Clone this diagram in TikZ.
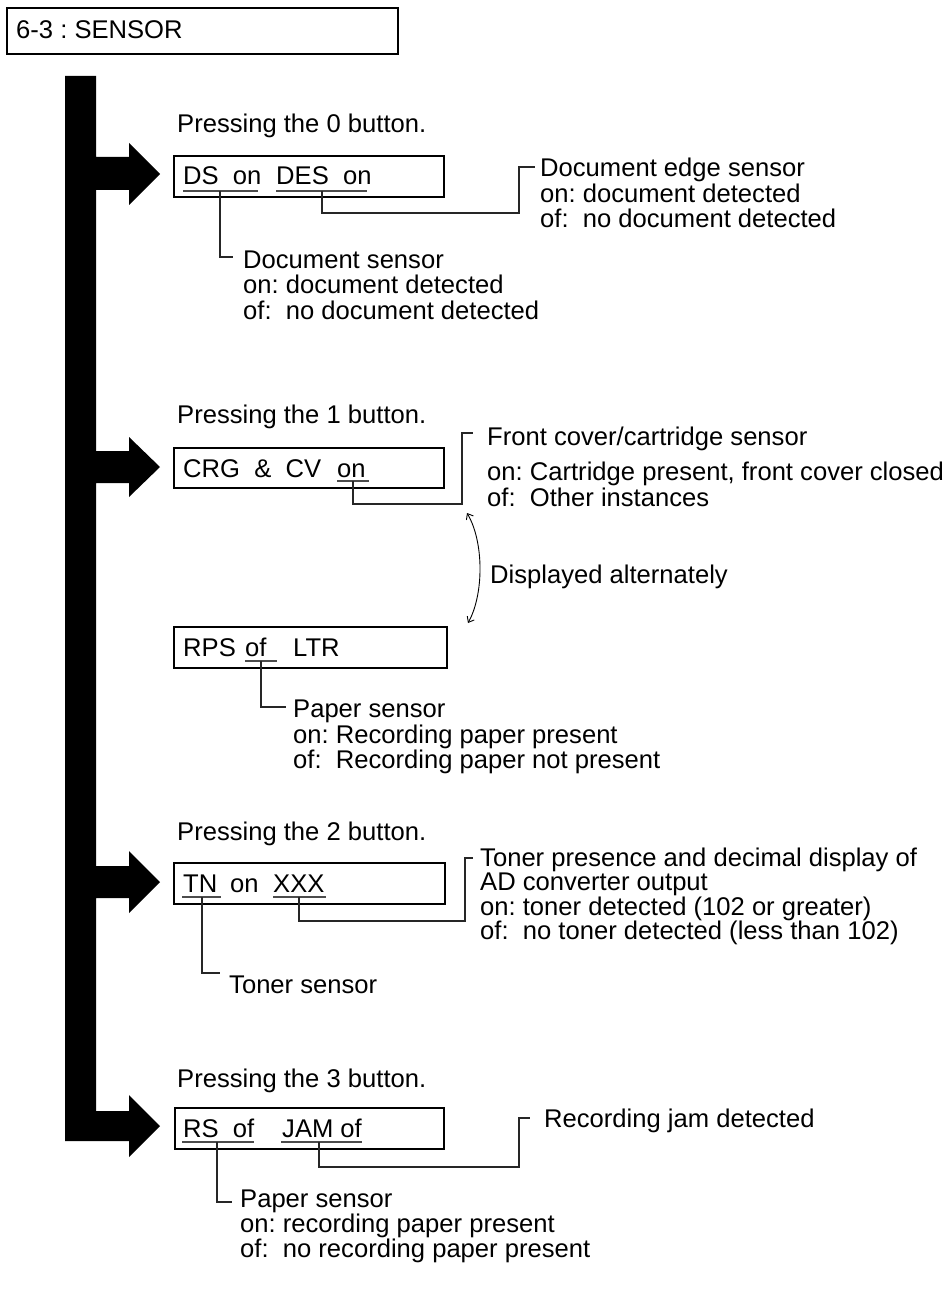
\documentclass[tikz,border=0pt]{standalone}
\usepackage{fontspec}
\setmainfont{Liberation Sans}
\usetikzlibrary{arrows.meta,calc}
\begin{document}
\begin{tikzpicture}[x=1pt,y=-1pt,
  txt/.style={anchor=base west,inner sep=0pt,font=\fontsize{25.6}{28}\selectfont\frenchspacing},
  dispbox/.style={draw,line width=1.9pt,inner sep=0pt,minimum height=41pt},
  lead/.style={line width=1.2pt,black!85},
  uline/.style={line width=1.4pt,black!70},
  barb/.style={{Straight Barb[length=5pt,width=8pt]}-{Straight Barb[length=5pt,width=8pt]},line width=0.9pt}]
\useasboundingbox (0,0) rectangle (947,1289);

% title
\node[dispbox,minimum width=391pt,minimum height=46pt,line width=1.6pt] (title) at (202.5,31) {};
\node[txt] (titletxt) at (16,39) {6-3 : SENSOR};

% black bar with arrows
\fill[black] (65,76) -- (96,76) -- (96,157) -- (129,157) -- (129,143) -- (160,174) -- (129,205) -- (129,190)
  -- (96,190) -- (96,451) -- (129,451) -- (129,437) -- (160,467) -- (129,497) -- (129,483)
  -- (96,483) -- (96,866) -- (129,866) -- (129,851) -- (160,882) -- (129,913) -- (129,898)
  -- (96,898) -- (96,1111) -- (129,1111) -- (129,1095) -- (160,1126) -- (129,1157) -- (129,1141)
  -- (65,1141) -- cycle;

% ---------- section 0 ----------
\node[txt] (p0) at (177,133) {Pressing the 0 button.};
\node[dispbox,minimum width=270pt] (box0) at (309,176.5) {};
\node[txt] (ds) at (183,185) {DS\ \ on};
\node[txt] (des) at (276,185) {DES\ \ on};
\draw[uline] (183,191) -- (258,191);
\draw[uline] (276,191) -- (367,191);
\coordinate (dsU) at (220,191);
\coordinate (dsE) at (233,257);
\draw[lead] (dsU) |- (dsE);
\node[txt] (dsl1) at (243,268) {Document sensor};
\node[txt] (dsl2) at (243,293) {on:\ document detected};
\node[txt] (dsl3) at (243,319) {of:\ \ no document detected};
\coordinate (desU) at (322,191);
\coordinate (desM) at (519,213);
\coordinate (desE) at (535,167);
\draw[lead] (desU) |- (desM) |- (desE);
\node[txt] (desl1) at (540,177) {Document edge sensor};
\node[txt] (desl2) at (540,203) {on:\ document detected};
\node[txt] (desl3) at (540,228) {of:\ \ no document detected};

% ---------- section 1 ----------
\node[txt] (p1) at (177,423) {Pressing the 1 button.};
\node[dispbox,minimum width=270pt,minimum height=40pt] (box1) at (309,468) {};
\node[txt] (crg) at (183,477) {CRG\ \ \&\ \ CV};
\node[txt] (crgon) at (337,477) {on};
\draw[uline] (337,481) -- (369,481);
\coordinate (cvU) at (353,481);
\coordinate (cvM) at (462,504);
\coordinate (cvE) at (473,433);
\draw[lead] (cvU) |- (cvM) |- (cvE);
\node[txt] (cvl1) at (487,445.5) {Front cover/cartridge sensor};
\node[txt] (cvl2) at (487,480) {on:\ Cartridge present, front cover closed};
\node[txt] (cvl3) at (487,506) {of:\ \ Other instances};

\coordinate (altA) at (467,513);
\coordinate (altB) at (468,623);
\draw[barb] (altA) .. controls (484,542) and (484,594) .. (altB);
\node[txt] (alt) at (490,583) {Displayed alternately};

% ---------- RPS ----------
\node[dispbox,minimum width=273pt] (boxr) at (310.5,647.5) {};
\node[txt] (rps) at (183,656) {RPS};
\node[txt] (rpsof) at (245,656) {of};
\node[txt] (ltr) at (293,656) {LTR};
\draw[uline] (245,661) -- (277,661);
\coordinate (rpsU) at (261,661);
\coordinate (rpsE) at (286,707);
\draw[lead] (rpsU) |- (rpsE);
\node[txt] (rpl1) at (293,717) {Paper sensor};
\node[txt] (rpl2) at (293,743) {on:\ Recording paper present};
\node[txt] (rpl3) at (293,768) {of:\ \ Recording paper not present};

% ---------- section 2 ----------
\node[txt] (p2) at (177,840) {Pressing the 2 button.};
\node[dispbox,minimum width=271pt] (box2) at (309.5,883.5) {};
\node[txt] (tn) at (183,892) {TN};
\node[txt] (tnon) at (230,892) {on};
\node[txt] (xxx) at (273,892) {XXX};
\draw[uline] (182,897) -- (221,897);
\draw[uline] (273,897) -- (326,897);
\coordinate (tnU) at (202,897);
\coordinate (tnE) at (220,973);
\draw[lead] (tnU) |- (tnE);
\node[txt] (tnl) at (229,993) {Toner sensor};
\coordinate (xxU) at (299,897);
\coordinate (xxM) at (465,921);
\coordinate (xxE) at (473,858);
\draw[lead] (xxU) |- (xxM) |- (xxE);
\node[txt] (xxl1) at (480,866) {Toner presence and decimal display of};
\node[txt] (xxl2) at (480,890.5) {AD converter output};
\node[txt] (xxl3) at (480,915) {on:\ toner detected (102 or greater)};
\node[txt] (xxl4) at (480,939.5) {of:\ \ no toner detected (less than 102)};

% ---------- section 3 ----------
\node[txt] (p3) at (177,1087) {Pressing the 3 button.};
\node[dispbox,minimum width=269pt] (box3) at (309.5,1128.5) {};
\node[txt] (rs) at (183,1137) {RS\ \ of};
\node[txt] (jam) at (282,1137) {JAM of};
\draw[uline] (182,1142) -- (254,1142);
\draw[uline] (281,1142) -- (362,1142);
\coordinate (rsU) at (217,1142);
\coordinate (rsE) at (232,1202);
\draw[lead] (rsU) |- (rsE);
\node[txt] (rsl1) at (240,1207) {Paper sensor};
\node[txt] (rsl2) at (240,1232) {on:\ recording paper present};
\node[txt] (rsl3) at (240,1257) {of:\ \ no recording paper present};
\coordinate (jmU) at (319,1142);
\coordinate (jmM) at (519,1167);
\coordinate (jmE) at (530,1118);
\draw[lead] (jmU) |- (jmM) |- (jmE);
\node[txt] (jml) at (544,1127) {Recording jam detected};
\end{tikzpicture}
\end{document}
